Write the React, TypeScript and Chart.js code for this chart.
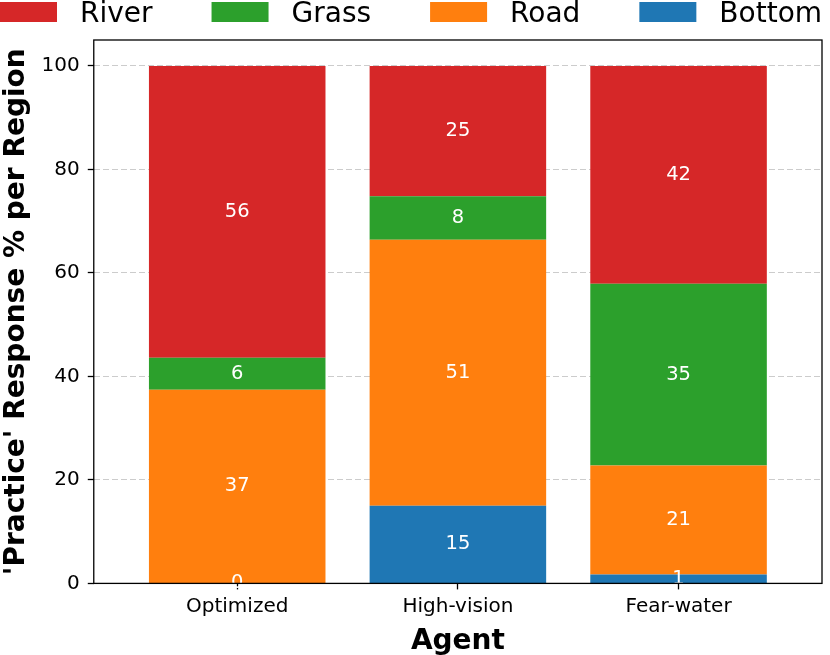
import React, { useEffect, useRef } from "react";
import { Chart, registerables } from "chart.js";

Chart.register(...registerables);

const agents = ["Optimized", "High-vision", "Fear-water"];
const bottomVals = [0, 15.0, 1.7];
const roadVals = [37.4, 51.4, 21.1];
const grassVals = [6.2, 8.4, 35.1];
const riverVals = [56.4, 25.2, 42.1];
const yTicks = [0, 20, 40, 60, 80, 100];

const FONT = "'DejaVu Sans', sans-serif";

const frame = {
  id: "frame",
  afterDraw(chart: any) {
    const { ctx, chartArea: a } = chart;
    ctx.save();
    ctx.strokeStyle = "#000";
    ctx.lineWidth = 1.3;
    ctx.strokeRect(a.left, a.top, a.right - a.left, a.bottom - a.top);
    ctx.restore();
  },
};

const customLegend = {
  id: "customLegend",
  afterDraw(chart: any) {
    const { ctx } = chart;
    const ds = [...chart.data.datasets].reverse();
    ctx.save();
    ctx.font = `28px ${FONT}`;
    ctx.textBaseline = "alphabetic";
    ctx.textAlign = "left";
    const boxW = 57, boxH = 20, textOff = 80, gap = 59;
    let x = 0;
    ds.forEach((d: any) => {
      ctx.fillStyle = d.backgroundColor;
      ctx.fillRect(x, 2, boxW, boxH);
      ctx.fillStyle = "#000";
      ctx.fillText(d.label, x + textOff, 22);
      x += textOff + ctx.measureText(d.label).width + gap;
    });
    ctx.restore();
  },
};

const barLabels = {
  id: "barLabels",
  afterDatasetsDraw(chart: any) {
    const { ctx } = chart;
    ctx.save();
    ctx.fillStyle = "#fff";
    ctx.font = `19.5px ${FONT}`;
    ctx.textAlign = "center";
    ctx.textBaseline = "middle";
    chart.data.datasets.forEach((ds: any, i: number) => {
      const meta = chart.getDatasetMeta(i);
      meta.data.forEach((el: any, j: number) => {
        const p = el.getProps(["x", "y", "base"], true);
        const v = ds.data[j].y;
        ctx.fillText(String(Math.floor(v)), p.x, (p.y + p.base) / 2);
      });
    });
    ctx.restore();
  },
};

export default function App() {
  const ref = useRef<HTMLCanvasElement>(null);
  useEffect(() => {
    document.body.style.margin = "0";
    const mk = (vals: number[]) => vals.map((y, i) => ({ x: i, y }));
    const chart = new Chart(ref.current!, {
      type: "bar",
      data: {
        datasets: [
          { label: "Bottom", data: mk(bottomVals), backgroundColor: "#1f77b4" },
          { label: "Road", data: mk(roadVals), backgroundColor: "#ff7f0e" },
          { label: "Grass", data: mk(grassVals), backgroundColor: "#2ca02c" },
          { label: "River", data: mk(riverVals), backgroundColor: "#d62728" },
        ] as any,
      },
      options: {
        animation: false,
        responsive: false,
        devicePixelRatio: 1,
        datasets: { bar: { categoryPercentage: 0.8, barPercentage: 1 } } as any,
        layout: { padding: { left: 0, right: 8, top: 40, bottom: -4 } },
        plugins: {
          tooltip: { enabled: false },
          legend: { display: false },
        },
        scales: {
          x: {
            type: "linear",
            stacked: true,
            offset: false,
            min: -0.65,
            max: 2.65,
            afterBuildTicks: (s: any) => {
              s.ticks = agents.map((_, i) => ({ value: i }));
            },
            ticks: {
              font: { family: FONT, size: 20 },
              color: "#000",
              padding: 5,
              callback: (v: any) => agents[v as number] ?? "",
              maxRotation: 0,
              autoSkip: false,
            },
            grid: {
              offset: false,
              drawOnChartArea: false,
              tickLength: 6,
              tickColor: "#000",
              tickWidth: 1.3,
            },
            border: { display: false },
            title: {
              display: true,
              text: "Agent",
              font: { family: FONT, size: 28, weight: "bold" },
              color: "#000",
              padding: { top: 2, bottom: 0 },
            },
          },
          y: {
            stacked: true,
            min: 0,
            max: 105,
            afterBuildTicks: (s: any) => {
              s.ticks = yTicks.map((v) => ({ value: v }));
            },
            ticks: {
              font: { family: FONT, size: 20 },
              color: "#000",
              padding: 8,
            },
            grid: {
              color: "#cccccc",
              lineWidth: 1,
              tickLength: 6,
              tickColor: "#000",
              tickWidth: 1.3,
              tickBorderDash: [],
            } as any,
            border: { display: false, dash: [6, 3] },
            title: {
              display: true,
              text: "'Practice' Response % per Region",
              font: { family: FONT, size: 28, weight: "bold" },
              color: "#000",
              padding: { top: 0, bottom: 0 },
            },
          },
        },
      },
      plugins: [frame, barLabels, customLegend],
    });
    return () => chart.destroy();
  }, []);
  return (
    <div style={{ position: "fixed", left: 0, top: 0, width: 830, height: 655 }}>
      <canvas ref={ref} width={830} height={655} />
    </div>
  );
}
